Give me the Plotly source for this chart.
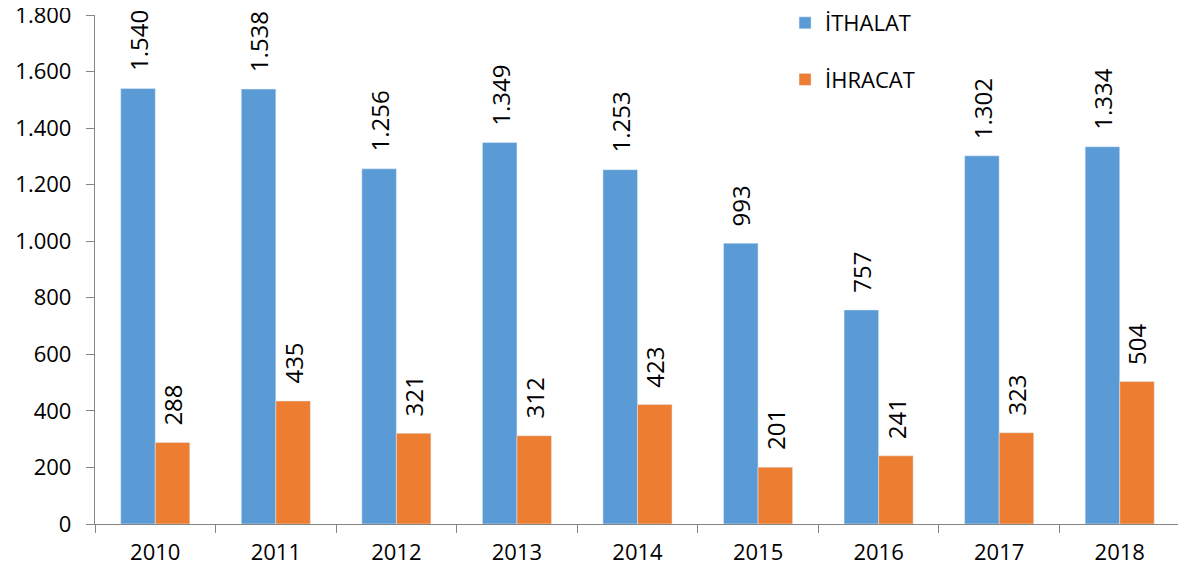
import plotly.graph_objects as go

years = ["2010", "2011", "2012", "2013", "2014", "2015", "2016", "2017", "2018"]
ithalat = [1540, 1538, 1256, 1349, 1253, 993, 757, 1302, 1334]
ihracat = [288, 435, 321, 312, 423, 201, 241, 323, 504]
y_ticks = [0, 200, 400, 600, 800, 1000, 1200, 1400, 1600, 1800]

BLUE = "#5B9BD5"
ORANGE = "#ED7D31"
AXIS = "#868686"
FONT = "Open Sans"
FS = 22
FS_LAB = 24

W, H = 1178, 570
ML, MR, MT, MB = 87, 6, 7, 54

def fmt(v):
    return f"{v:,}".replace(",", ".")

fig = go.Figure()
fig.add_trace(go.Bar(name="İTHALAT", x=years, y=ithalat, marker_color=BLUE,
                     legendgroup="a"))
fig.add_trace(go.Bar(name="İHRACAT", x=years, y=ihracat, marker_color=ORANGE,
                     legendgroup="b"))

plot_w = W - ML - MR
plot_h = H - MT - MB
cat_px = plot_w / len(years)
bargap = 0.427
bar_px = cat_px * (1 - bargap) / 2

annotations = []
for i, (a, b) in enumerate(zip(ithalat, ihracat)):
    for val, sh in ((a, -bar_px / 2), (b, bar_px / 2)):
        annotations.append(dict(
            x=i, y=val, xref="x", yref="y", text=fmt(val), textangle=-90,
            showarrow=False, xanchor="center", yanchor="bottom",
            xshift=sh, yshift=15, font=dict(family=FONT, size=FS_LAB, color="#000000")))

fig.update_layout(
    width=W, height=H,
    margin=dict(l=ML, r=MR, t=MT, b=MB, autoexpand=False),
    paper_bgcolor="white", plot_bgcolor="white",
    barmode="group", bargap=bargap, bargroupgap=0,
    separators=",.",
    font=dict(family=FONT, size=FS, color="#000000"),
    legend=dict(x=0.636, y=1 + 13 / plot_h, xref="paper", yref="paper",
                xanchor="left", yanchor="top",
                font=dict(family=FONT, size=FS), tracegroupgap=25,
                traceorder="grouped", itemwidth=30, bgcolor="rgba(0,0,0,0)"),
    annotations=annotations,
    showlegend=True,
)
fig.update_xaxes(type="category", range=[-0.5, len(years) - 0.5], automargin=False,
                 showline=True, linecolor=AXIS, linewidth=1.3,
                 ticks="outside", tickson="boundaries", ticklen=8, tickcolor=AXIS,
                 tickwidth=1.3, showgrid=False, ticklabelstandoff=8,
                 tickangle=0, ticklabeloverflow="allow",
                 tickfont=dict(family=FONT, size=FS))
fig.update_yaxes(range=[0, 1800], tickvals=y_ticks, tickformat=",d", automargin=False,
                 showline=True, linecolor=AXIS, linewidth=1.3,
                 ticks="outside", ticklen=8, tickcolor=AXIS, tickwidth=1.3,
                 showgrid=False, zeroline=False, ticklabelstandoff=10,
                 ticklabeloverflow="allow",
                 tickfont=dict(family=FONT, size=FS))

fig.write_html("out.html")
